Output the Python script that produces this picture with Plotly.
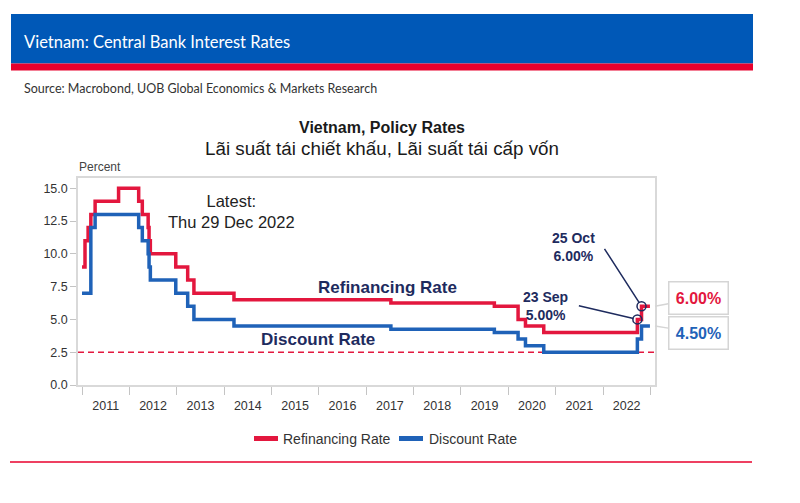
import plotly.graph_objects as go

# ---- data ----
dates = ["2011-01-01", "2011-01-24", "2011-02-17", "2011-03-10", "2011-04-12", "2011-10-10",
         "2012-03-13", "2012-04-10", "2012-05-25", "2012-06-01", "2012-06-11", "2012-12-24",
         "2013-03-26", "2013-05-13", "2014-03-18", "2017-07-10", "2019-09-16", "2020-03-17",
         "2020-05-13", "2020-10-01", "2022-09-23", "2022-10-25", "2022-12-29"]
refinancing = [9, 11, 12, 13, 14, 15, 14, 13, 12, 11, 10, 9, 8, 7, 6.5, 6.25, 6.0, 5.0, 4.5, 4.0, 5.0, 6.0, 6.0]
discount = [7, 7, 7, 12, 13, 13, 12, 11, 10, 9, 8, 7, 6, 5, 4.5, 4.25, 4.0, 3.5, 3.0, 2.5, 3.5, 4.5, 4.5]
series_names = ["Refinancing Rate", "Discount Rate"]
marker_dates = ["2022-09-23", "2022-10-25"]
marker_values = [5.0, 6.0]
y_ticks = [0, 2.5, 5, 7.5, 10, 12.5, 15]
y_tick_labels = ["0.0", "2.5", "5.0", "7.5", "10.0", "12.5", "15.0"]
threshold = 2.5

RED = "#e3173e"
BLUE = "#1f62b8"
NAVY = "#1e2b5e"

# the page body has an 8px margin, so reference pixel coords are shifted by OFF
OFF = 8
FW, FH = 800 - 2 * OFF, 503 - 2 * OFF
# plot-area frame in reference pixel coords
L, R, T, B = 78, 655, 178, 385
W, H = R - L, B - T


def px(x):
    return (x - L) / W


def py(y):
    return (B - y) / H


fig = go.Figure()
fig.add_trace(go.Scatter(x=dates, y=refinancing, mode="lines", line=dict(color=RED, width=3.5, shape="hv"),
                         name=series_names[0], showlegend=False))
fig.add_trace(go.Scatter(x=dates, y=discount, mode="lines", line=dict(color=BLUE, width=3.5, shape="hv"),
                         name=series_names[1], showlegend=False))
fig.add_trace(go.Scatter(x=marker_dates, y=marker_values, mode="markers", showlegend=False,
                         marker=dict(symbol="circle", size=9, color="rgba(255,255,255,0)",
                                     line=dict(color=NAVY, width=1.5))))

LEG_Y = 438.5
shapes = [
    dict(type="rect", xref="paper", yref="paper", x0=px(11), x1=px(753), y0=py(63.5), y1=py(14),
         fillcolor="#0058b7", line=dict(width=0), layer="below"),
    dict(type="rect", xref="paper", yref="paper", x0=px(11), x1=px(753), y0=py(70.5), y1=py(63.5),
         fillcolor="#e8002d", line=dict(width=0), layer="below"),
    dict(type="line", xref="paper", yref="paper", x0=px(10), x1=px(752), y0=py(462), y1=py(462),
         line=dict(color="#e8002d", width=1.5)),
    dict(type="line", xref="paper", yref="y", x0=0, x1=1, y0=threshold, y1=threshold,
         line=dict(color=RED, width=1.5, dash="6px,4px"), layer="below"),
    # legend swatches
    dict(type="line", xref="paper", yref="paper", x0=px(254), x1=px(278), y0=py(LEG_Y), y1=py(LEG_Y),
         line=dict(color=RED, width=5)),
    dict(type="line", xref="paper", yref="paper", x0=px(399), x1=px(423), y0=py(LEG_Y), y1=py(LEG_Y),
         line=dict(color=BLUE, width=5)),
]

ann = [
    dict(text="Vietnam: Central Bank Interest Rates", x=px(22), y=py(42), xanchor="left", yanchor="middle",
         font=dict(family="Lato", size=16.5, color="white")),
    dict(text="Source: Macrobond, UOB Global Economics & Markets Research", x=px(22), y=py(88),
         xanchor="left", yanchor="middle", font=dict(family="Lato", size=12.5, color="#333333")),
    dict(text="<b>Vietnam, Policy Rates</b>", x=px(382), y=py(127), xanchor="center", yanchor="middle",
         font=dict(size=16, color="#1a1a1a")),
    dict(text="Lãi suất tái chiết khấu, Lãi suất tái cấp vốn", x=px(382), y=py(148), xanchor="center",
         yanchor="middle", font=dict(size=18.8, color="#1a1a1a")),
    dict(text="Percent", x=px(77), y=py(167), xanchor="left", yanchor="middle",
         font=dict(size=12, color="#444444")),
    dict(text="Latest:<br>Thu 29 Dec 2022", x=px(231), y=py(211), xanchor="center", yanchor="middle",
         font=dict(size=16.5, color="#222222")),
    dict(text="<b>Refinancing Rate</b>", x=px(387), y=py(287), xanchor="center", yanchor="middle",
         font=dict(size=17, color=NAVY)),
    dict(text="<b>Discount Rate</b>", x=px(318), y=py(339), xanchor="center", yanchor="middle",
         font=dict(size=17, color=NAVY)),
    dict(text="<b>25 Oct<br>6.00%</b>", x=px(573), y=py(247), xanchor="center", yanchor="middle",
         font=dict(size=14, color=NAVY)),
    dict(text="<b>23 Sep<br>5.00%</b>", x=px(545), y=py(306), xanchor="center", yanchor="middle",
         font=dict(size=14, color=NAVY)),
    dict(text="", x=marker_dates[1], y=marker_values[1], xref="x", yref="y", showarrow=True, arrowhead=0,
         arrowwidth=1.5, arrowcolor=NAVY, ax=-38, ay=-59, standoff=4),
    dict(text="", x=marker_dates[0], y=marker_values[0], xref="x", yref="y", showarrow=True, arrowhead=0,
         arrowwidth=1.5, arrowcolor=NAVY, ax=-60, ay=-14, standoff=4),
    dict(text="<b>6.00%</b>", x=1.0, y=refinancing[-1], xref="paper", yref="y", showarrow=True,
         arrowhead=0, arrowwidth=1.5, arrowcolor="#d5d5d5", ax=43, ay=-8,
         bgcolor="white", bordercolor="#d5d5d5", borderwidth=1.5, borderpad=2, width=54, height=27,
         font=dict(size=16, color=RED)),
    dict(text="<b>4.50%</b>", x=1.0, y=discount[-1], xref="paper", yref="y", showarrow=True,
         arrowhead=0, arrowwidth=1.5, arrowcolor="#d5d5d5", ax=43, ay=7,
         bgcolor="white", bordercolor="#d5d5d5", borderwidth=1.5, borderpad=2, width=54, height=27,
         font=dict(size=16, color=BLUE)),
    # legend labels
    dict(text=series_names[0], x=px(280.5), y=py(LEG_Y), xanchor="left", yanchor="middle",
         font=dict(size=14, color="#333333")),
    dict(text=series_names[1], x=px(426.5), y=py(LEG_Y), xanchor="left", yanchor="middle",
         font=dict(size=14, color="#333333")),
]
for a in ann:
    a.setdefault("xref", "paper")
    a.setdefault("yref", "paper")
    a.setdefault("showarrow", False)

fig.update_layout(
    width=FW, height=FH,
    margin=dict(l=L - OFF, r=FW - (R - OFF), t=T - OFF, b=FH - (B - OFF), pad=0),
    paper_bgcolor="white", plot_bgcolor="white",
    font=dict(family="Liberation Sans, Arial, sans-serif", color="#333333", size=12),
    shapes=shapes, annotations=ann,
    showlegend=False,
    xaxis=dict(type="date", range=["2010-12-01", "2023-02-06"], tick0="2011-01-01", dtick="M12",
               ticklabelmode="period", tickformat="%Y", ticks="outside", ticklen=8, tickcolor="#c4c4c4",
               showgrid=False, zeroline=False, showline=True, linecolor="#d9d9d9", linewidth=1.5,
               mirror=True, tickfont=dict(size=12.5, color="#333333")),
    yaxis=dict(range=[0, 15.78], tickvals=y_ticks, ticktext=y_tick_labels, ticks="outside", ticklen=6,
               tickcolor="#c4c4c4", showgrid=False, zeroline=False, showline=True, linecolor="#d9d9d9",
               linewidth=1.5, mirror=True, tickfont=dict(size=12.5, color="#333333")),
)

fig.write_html("out.html")
